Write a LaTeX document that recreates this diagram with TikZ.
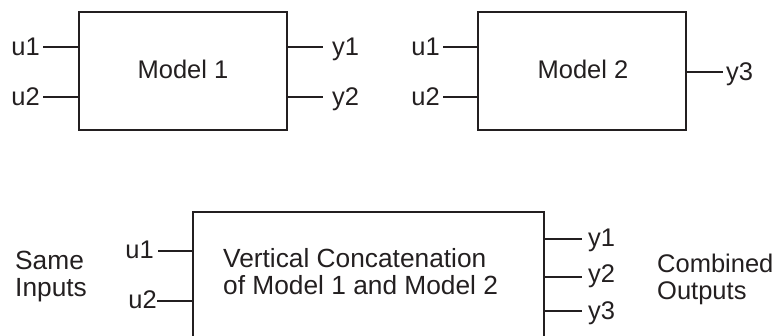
\documentclass[tikz,border=0pt]{standalone}
\usepackage{fontspec}
\setmainfont{Liberation Sans}
\definecolor{ink}{RGB}{35,31,32}
\begin{document}
\begin{tikzpicture}[x=1pt,y=-1pt,
  blk/.style={draw=ink, line width=2.6pt, rectangle, inner sep=0pt},
  conn/.style={draw=ink, line width=2pt},
  lbl/.style={inner sep=0pt, text=ink, font=\fontsize{25.5}{27}\selectfont},
  biglbl/.style={inner sep=0pt, text=ink, font=\fontsize{26.3}{27}\selectfont}]
\useasboundingbox (0,0) rectangle (779,336);
% Model 1
\node[blk, minimum width=208pt, minimum height=118pt] (m1) at (183,71) {};
\node[lbl, anchor=base] (t1) at (183,79) {Model 1};
\coordinate (a1) at (43,47);
\coordinate (a2) at (43,97);
\coordinate (b1) at (323,47);
\coordinate (b2) at (323,97);
\draw[conn] (a1) -- (m1.west |- a1);
\draw[conn] (a2) -- (m1.west |- a2);
\draw[conn] (m1.east |- b1) -- (b1);
\draw[conn] (m1.east |- b2) -- (b2);
\node[lbl, anchor=base east] (la1) at (40,56) {u1};
\node[lbl, anchor=base east] (la2) at (40,106) {u2};
\node[lbl, anchor=base west] (lb1) at (332,56) {y1};
\node[lbl, anchor=base west] (lb2) at (332,106) {y2};
% Model 2
\node[blk, minimum width=208pt, minimum height=118pt] (m2) at (582,71) {};
\node[lbl, anchor=base] (t2) at (583,79) {Model 2};
\coordinate (c1) at (443,47);
\coordinate (c2) at (443,97);
\coordinate (d3) at (723,72);
\draw[conn] (c1) -- (m2.west |- c1);
\draw[conn] (c2) -- (m2.west |- c2);
\draw[conn] (m2.east |- d3) -- (d3);
\node[lbl, anchor=base east] (lc1) at (440,56) {u1};
\node[lbl, anchor=base east] (lc2) at (440,106) {u2};
\node[lbl, anchor=base west] (ld3) at (726,81) {y3};
% Concatenation
\node[blk, minimum width=351pt, minimum height=126pt] (m3) at (368.5,275) {};
\node[biglbl, anchor=base west] (t3a) at (223,268) {Vertical Concatenation};
\node[biglbl, anchor=base west] (t3b) at (223,295) {of Model 1 and Model 2};
\coordinate (e1) at (158,251);
\coordinate (e2) at (157,301);
\coordinate (f1) at (582,239);
\coordinate (f2) at (582,277);
\coordinate (f3) at (582,311);
\draw[conn] (e1) -- (m3.west |- e1);
\draw[conn] (e2) -- (m3.west |- e2);
\draw[conn] (m3.east |- f1) -- (f1);
\draw[conn] (m3.east |- f2) -- (f2);
\draw[conn] (m3.east |- f3) -- (f3);
\node[lbl, anchor=base east] (le1) at (154,259) {u1};
\node[lbl, anchor=base east] (le2) at (157,309) {u2};
\node[lbl, anchor=base west] (lf1) at (588,247) {y1};
\node[lbl, anchor=base west] (lf2) at (588,283) {y2};
\node[lbl, anchor=base west] (lf3) at (588,320) {y3};
\node[biglbl, anchor=base west] (s1) at (15,270) {Same};
\node[biglbl, anchor=base west] (s2) at (15,297) {Inputs};
\node[lbl, anchor=base west] (o1) at (657,273) {Combined};
\node[lbl, anchor=base west] (o2) at (657,300) {Outputs};
\end{tikzpicture}
\end{document}
